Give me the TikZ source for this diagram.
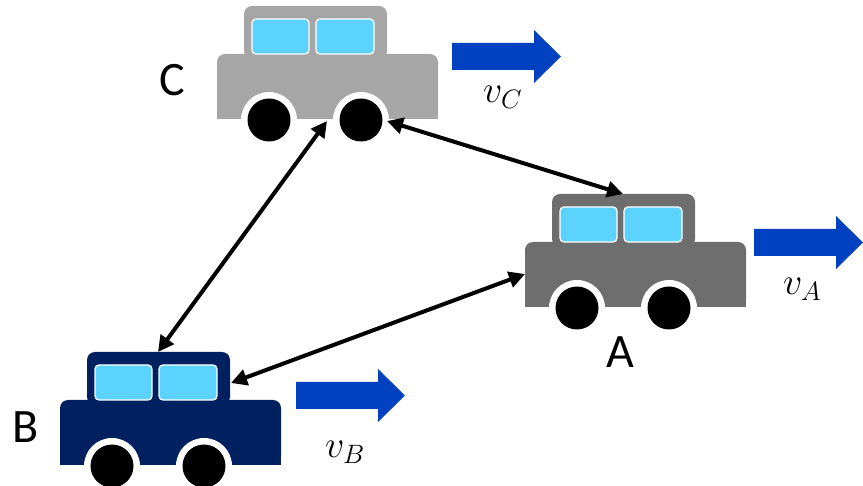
\RequirePackage{fix-cm}
\documentclass[tikz,border=0pt]{standalone}
\usepackage{fontspec}
\setmainfont{Carlito}
\usetikzlibrary{arrows.meta}

\definecolor{carC}{RGB}{166,166,166}
\definecolor{carA}{RGB}{110,110,110}
\definecolor{carB}{RGB}{0,32,96}
\definecolor{glass}{RGB}{92,211,255}
\definecolor{speedblue}{RGB}{0,65,194}

\tikzset{
  % a car drawn from the bottom-left corner of its body
  pics/car/.style={code={
    \fill[#1, rounded corners=8] (0,-65) rectangle (221,0);
    \fill[#1] (0,-30) rectangle (221,0);
    \fill[#1, rounded corners=8] (27,-113) rectangle (170,-60);
    \filldraw[fill=glass, draw=white, line width=1.3pt, rounded corners=4]
      (35,-100) rectangle (92,-65);
    \filldraw[fill=glass, draw=white, line width=1.3pt, rounded corners=4]
      (99,-100) rectangle (157,-65);
    \fill[white] (52,1) circle[radius=28] (144,1) circle[radius=28];
    \fill[black] (52,1) circle[radius=21.5] (144,1) circle[radius=21.5];
    \coordinate (-top)  at (98,-113);
    \coordinate (-east) at (171,-82);
    \coordinate (-west) at (0,-33);
    \coordinate (-gap)  at (110,2);
    \coordinate (-rear) at (170,2);
  }},
  % block arrow for a velocity, drawn from the middle of its tail
  pics/speed/.style={code={
    \fill[speedblue] (0,-13.5) -- (82,-13.5) -- (82,-26.5) -- (109,0)
      -- (82,26.5) -- (82,13.5) -- (0,13.5) -- cycle;
  }},
  link/.style={line width=4pt, black,
    {Triangle[length=16pt,width=16pt]}-{Triangle[length=16pt,width=16pt]}},
  carname/.style={inner sep=0pt, font=\fontsize{48}{52}\selectfont},
  vlabel/.style={inner sep=0pt, anchor=base west, font=\fontsize{38}{40}\selectfont},
}

\begin{document}
\begin{tikzpicture}[x=1pt, y=-1pt]
  \useasboundingbox (0,0) rectangle (863,486);

  % the three cars
  \pic (C) at (217,119) {car=carC};
  \pic (A) at (525,307) {car=carA};
  \pic (B) at (60,465)  {car=carB};

  % velocity arrows
  \pic (vC) at (452,56.5)  {speed};
  \pic (vA) at (754,242.5) {speed};
  \pic (vB) at (296,395.5) {speed};

  % names and velocities
  \node[carname] (nC) at (172,80)  {C};
  \node[carname] (nA) at (620,352) {A};
  \node[carname] (nB) at (26,427)  {B};
  \node[vlabel] (lC) at (483,103) {$v_C$};
  \node[vlabel] (lA) at (783,295) {$v_A$};
  \node[vlabel] (lB) at (325,458) {$v_B$};

  % links between the cars
  \draw[link] (C-gap)  -- (B-top);
  \draw[link] (C-rear) -- (A-top);
  \draw[link] (A-west) -- (B-east);
\end{tikzpicture}
\end{document}
